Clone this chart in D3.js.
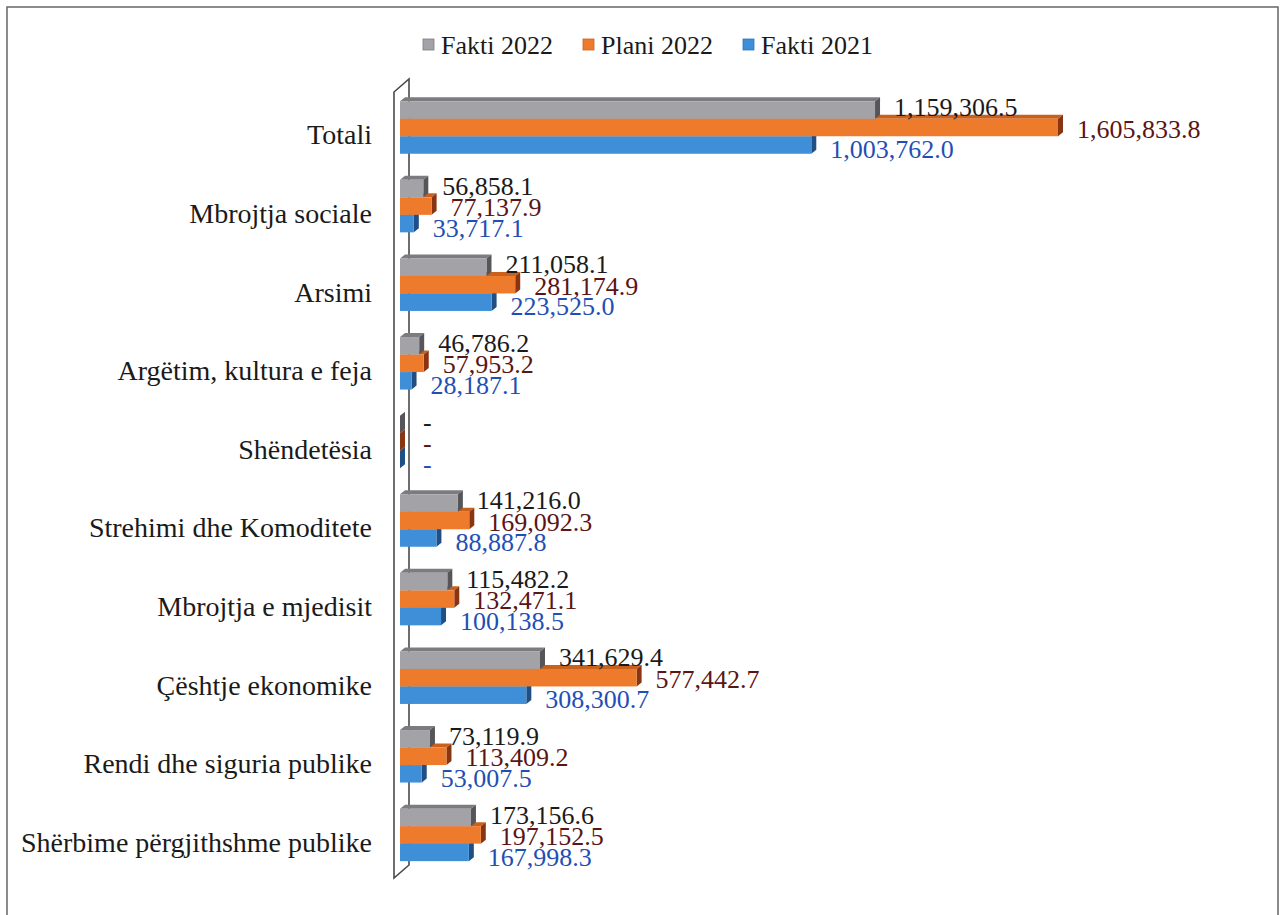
<!DOCTYPE html>
<html>
<head>
<meta charset="utf-8">
<script src="https://cdn.jsdelivr.net/npm/d3@7"></script>
<style>
  body { margin: 0; background: #fff; }
  svg { display: block; }
  text { font-family: "Liberation Serif", "Times New Roman", serif; }
</style>
</head>
<body>
<svg id="chart" width="1281" height="915"></svg>
<script>
const categories = [
  'Totali',
  'Mbrojtja sociale',
  'Arsimi',
  'Argëtim, kultura e feja',
  'Shëndetësia',
  'Strehimi dhe Komoditete',
  'Mbrojtja e mjedisit',
  'Çështje ekonomike',
  'Rendi dhe siguria publike',
  'Shërbime përgjithshme publike'
]
const seriesNames = ['Fakti 2022', 'Plani 2022', 'Fakti 2021']
const fakti2022 = [1159306.5, 56858.1, 211058.1, 46786.2, 0, 141216.0, 115482.2, 341629.4, 73119.9, 173156.6]
const plani2022 = [1605833.8, 77137.9, 281174.9, 57953.2, 0, 169092.3, 132471.1, 577442.7, 113409.2, 197152.5]
const fakti2021 = [1003762.0, 33717.1, 223525.0, 28187.1, 0, 88887.8, 100138.5, 308300.7, 53007.5, 167998.3]

const seriesValues = [fakti2022, plani2022, fakti2021]
const colors = [
  { front: '#a3a3a7', top: '#7c7c80', side: '#56565a', label: '#1a1a1a' },
  { front: '#ee7a2c', top: '#c9611c', side: '#8a3512', label: '#5a1515' },
  { front: '#3e8fd8', top: '#2f74b8', side: '#1f4f85', label: '#1f4fb5' }
]

const svg = d3.select('#chart')
const depth = { dx: 5, dy: -4 }
const barH = 17.5
const fmt = d3.format(',.1f')

// frame round the scanned chart
svg.append('path')
  .attr('d', 'M7,915 L7,7 L1278,7 L1278,915')
  .attr('fill', 'none')
  .attr('stroke', '#666')
  .attr('stroke-width', 1.5)

const x = d3.scaleLinear()
  .domain([0, d3.max(plani2022)])
  .range([400, 1058])

const y = d3.scaleBand()
  .domain(categories)
  .range([88.2, 874.2])

const step = y.bandwidth()

// side wall
const wall = { front: 394, back: 409, top: 79, bottom: 878 }
svg.append('path')
  .attr('d', `M${wall.front},${wall.top + 13} L${wall.back},${wall.top} L${wall.back},${wall.bottom - 13} L${wall.front},${wall.bottom} Z`)
  .attr('fill', '#fff')
  .attr('stroke', '#4a4a4a')
  .attr('stroke-width', 1.6)

const offsets = [-26.25, -8.75, 8.75]
const labelShift = [-3, 1, 4]

// draw from bottom series up so the upper front face hides the lower top face
const g = svg.append('g').attr('class', 'bars')
categories.forEach((cat, i) => {
  const c = y(cat) + step / 2
  for (let s = 2; s >= 0; s--) {
    const v = seriesValues[s][i]
    const x0 = x(0)
    const x1 = x(v)
    const y0 = c + offsets[s]
    const col = colors[s]
    const bar = g.append('g')
    bar.append('path')
      .attr('d', `M${x0},${y0} L${x0 + depth.dx},${y0 + depth.dy} L${x1 + depth.dx},${y0 + depth.dy} L${x1},${y0} Z`)
      .attr('fill', col.top)
    bar.append('path')
      .attr('d', `M${x1},${y0} L${x1 + depth.dx},${y0 + depth.dy} L${x1 + depth.dx},${y0 + barH + depth.dy} L${x1},${y0 + barH} Z`)
      .attr('fill', col.side)
    if (v > 0) {
      bar.append('rect')
        .attr('x', x0)
        .attr('y', y0)
        .attr('width', x1 - x0)
        .attr('height', barH)
        .attr('fill', col.front)
    }
  }
})

// value labels
const labels = svg.append('g').attr('class', 'labels')
categories.forEach((cat, i) => {
  const c = y(cat) + step / 2
  seriesValues.forEach((vals, s) => {
    const v = vals[i]
    labels.append('text')
      .attr('x', x(v) + depth.dx + (v > 0 ? 14 : 18))
      .attr('y', c + offsets[s] + barH / 2 + labelShift[s])
      .attr('dy', '0.35em')
      .attr('font-size', 26)
      .attr('fill', colors[s].label)
      .text(v > 0 ? fmt(v) : '-')
  })
})

// category labels
svg.append('g').selectAll('text')
  .data(categories)
  .enter().append('text')
  .attr('x', 372)
  .attr('y', d => y(d) + step / 2 + 7)
  .attr('dy', '0.35em')
  .attr('text-anchor', 'end')
  .attr('font-size', 28)
  .attr('fill', '#1a1a1a')
  .text(d => d)

// legend
const legendX = [423, 583, 743]
const legend = svg.append('g').attr('class', 'legend')
seriesNames.forEach((name, s) => {
  legend.append('rect')
    .attr('x', legendX[s])
    .attr('y', 39)
    .attr('width', 11)
    .attr('height', 11)
    .attr('fill', colors[s].front)
    .attr('stroke', colors[s].top)
    .attr('stroke-width', 0.8)
  legend.append('text')
    .attr('x', legendX[s] + 18)
    .attr('y', 45)
    .attr('dy', '0.35em')
    .attr('font-size', 26)
    .attr('fill', '#1a1a1a')
    .text(name)
})
</script>
</body>
</html>
